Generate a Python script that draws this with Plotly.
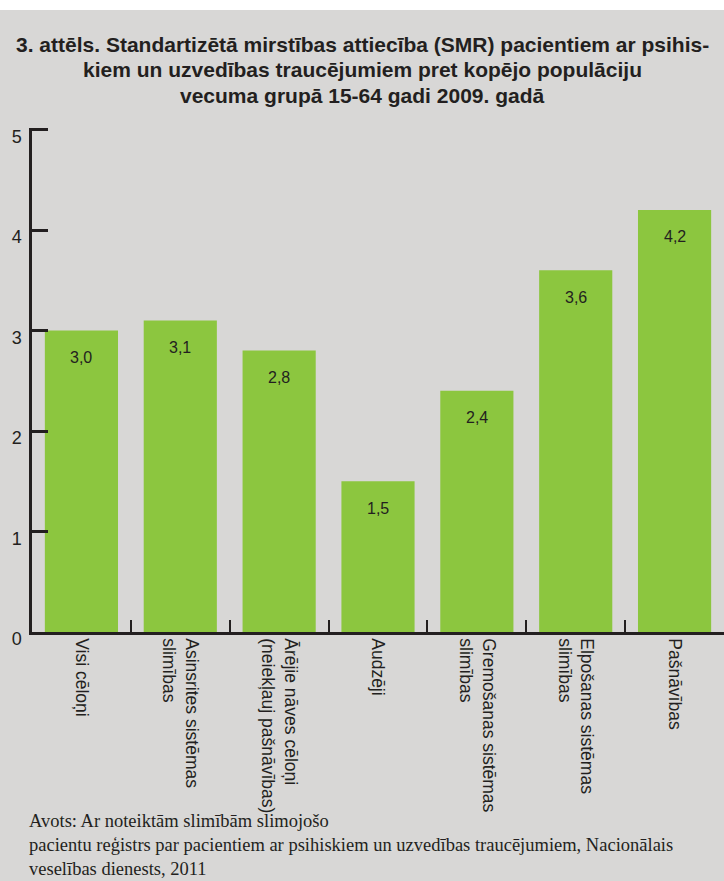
import plotly.graph_objects as go

categories = [
    "Visi cēloņi",
    "Asinsrites sistēmas<br>slimības",
    "Ārējie nāves cēloņi<br>(neiekļauj pašnāvības)",
    "Audzēji",
    "Gremošanas sistēmas<br>slimības",
    "Elpošanas sistēmas<br>slimības",
    "Pašnāvības",
]
smr_values = [3.0, 3.1, 2.8, 1.5, 2.4, 3.6, 4.2]
y_ticks = [0, 1, 2, 3, 4, 5]

title_lines = [
    "3. attēls. Standartizētā mirstības attiecība (SMR) pacientiem ar psihis-",
    "kiem un uzvedības traucējumiem pret kopējo populāciju",
    "vecuma grupā 15-64 gadi 2009. gadā",
]
source_text = ("Avots: Ar noteiktām slimībām slimojošo<br>"
               "pacientu reģistrs par pacientiem ar psihiskiem un uzvedības traucējumiem, Nacionālais<br>"
               "veselības dienests, 2011")

BG = "#d8d7d6"
GREEN = "#8cc63f"
INK = "#231f20"

W, H = 724, 881
ML, MR, MT, MB = 32, 0, 128, 249
ph = H - MT - MB
pw = W - ML - MR

def py(px):
    return (H - MB - px) / ph

def pxx(px):
    return (px - ML) / pw

fig = go.Figure()
fig.add_trace(go.Bar(x=categories, y=smr_values, marker=dict(color=GREEN, line=dict(width=0)),
                     hoverinfo="skip"))

for c, v in zip(categories, smr_values):
    fig.add_annotation(x=c, y=v, text=f"{v:.1f}".replace(".", ","), showarrow=False,
                       yshift=-27, yanchor="middle",
                       font=dict(family="Liberation Sans, Arial, sans-serif", size=16, color=INK))

fig.add_shape(type="rect", xref="paper", yref="paper", x0=-0.2, x1=1.2,
              y0=py(10), y1=py(-20), fillcolor="white", line=dict(width=0), layer="above")

for i, line in enumerate(title_lines):
    fig.add_annotation(xref="paper", yref="paper", x=pxx(362), y=py(45 + 25 * i),
                       xanchor="center", yanchor="middle", showarrow=False, text=f"<b>{line}</b>",
                       font=dict(family="Liberation Sans Narrow, Arial Narrow, Liberation Sans, sans-serif",
                                 size=21, color=INK))

fig.add_annotation(xref="paper", yref="paper", x=pxx(27), y=py(809),
                   xanchor="left", yanchor="top", align="left", showarrow=False,
                   text=source_text,
                   font=dict(family="Liberation Serif, Times New Roman, serif", size=18.5, color=INK))

fig.update_layout(
    width=W, height=H,
    margin=dict(l=ML, r=MR, t=MT, b=MB),
    paper_bgcolor=BG, plot_bgcolor=BG,
    bargap=0.26,
    showlegend=False,
    xaxis=dict(type="category", range=[-0.5, 6.5], showline=True, linecolor=INK, linewidth=2.5,
               ticks="inside", tickson="boundaries", ticklen=12, tickwidth=2, tickcolor=INK,
               tickangle=90, showgrid=False, zeroline=False,
               tickfont=dict(family="Liberation Sans, Arial, sans-serif", size=17.5, color=INK)),
    yaxis=dict(range=[0, 5.015], tickvals=y_ticks, showline=True, linecolor=INK, linewidth=2.5,
               ticks="inside", ticklen=16, tickwidth=2.5, tickcolor=INK,
               showgrid=False, zeroline=False, ticklabelstandoff=4, ticklabelshift=7,
               tickfont=dict(family="Liberation Sans, Arial, sans-serif", size=18, color=INK)),
)

fig.write_html("out.html")
